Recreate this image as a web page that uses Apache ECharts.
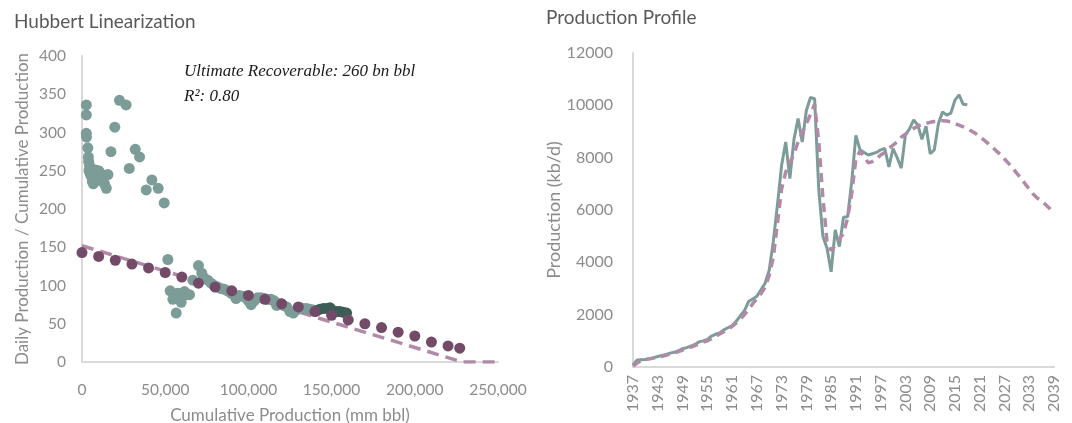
<!DOCTYPE html>
<html>
<head>
<meta charset="utf-8">
<title>Hubbert Linearization / Production Profile</title>
<script src="https://cdn.jsdelivr.net/npm/echarts@6/dist/echarts.min.js"></script>
<style>
  html, body { margin: 0; padding: 0; background: #fff; }
  #chart { width: 1072px; height: 423px; }
</style>
</head>
<body>
<div id="chart"></div>
<script>
// left panel: cumulative production (mm bbl) vs daily / cumulative
const histX = [2600, 2600, 2600, 2700, 3500, 3800, 4000, 4200, 4500, 5000, 5200, 5500, 6000, 6200, 6500, 6800, 7000, 7500, 8000, 8500, 9000, 9500, 10000, 10500, 11000, 11500, 12500, 13500, 14600, 15600, 17400, 19700, 22500, 26500, 28400, 32000, 34600, 38600, 42000, 45800, 49400,
  51600, 53000, 54600, 55600, 56600, 57500, 58600, 59600, 60600, 61600, 63000, 64600, 66600, 70000, 72000, 73400, 75600, 77600, 79500, 81600, 83600, 85600, 87500, 89500, 91000, 92600, 94500, 96500, 98500, 100000, 101600, 103500, 105600, 107500, 109500, 111500, 113600, 115500, 117000, 119000, 121000, 123000, 125000, 127000, 129000, 131000, 133000, 135000, 137000, 139000];
const histY = [336, 323, 299, 294, 280, 268, 262, 250, 257, 253, 244, 249, 246, 236, 242, 233, 238, 244, 251, 240, 246, 238, 250, 242, 238, 246, 236, 233, 227, 245, 275, 307, 342, 336, 253, 278, 268, 225, 238, 227, 208,
  134, 93, 82, 86, 64, 90, 89, 78, 86, 92, 88, 88, 107, 126, 116, 110, 107, 103, 100, 98, 96, 95, 93, 90, 88, 83, 87, 86, 84, 80, 75, 80, 84, 84, 83, 82, 82, 80, 74, 76, 74, 72, 66, 64, 68, 71, 70, 70, 69, 68];
const recentX = [141000, 143000, 145000, 147000, 149000, 151000, 153000, 155000, 157000, 159000];
const recentY = [67, 69, 70, 70, 71, 67, 66, 66, 65, 64];
const projX = [0, 10000, 20000, 30000, 40000, 50000, 60000, 70000, 80000, 90000, 100000, 110000, 120000, 130000, 140000, 150000, 160000, 170000, 180000, 190000, 200000, 210000, 220000, 227000];
const projY = [143, 138, 133, 128, 123, 117, 111, 103, 98, 93, 87, 82, 76, 72, 66, 61, 55, 50, 45, 39, 34, 26, 21, 18];
const fitX = [0, 228500, 250000];
const fitY = [152, 0, 0];

// right panel: production (kb/d) by year
const years = [];
for (let y = 1937; y <= 2039; y++) years.push(String(y));
const actual = [80, 270, 280, 290, 320, 360, 400, 440, 480, 530, 560, 620, 700, 740, 800, 860, 960, 1000, 1050, 1180, 1250, 1300, 1420, 1500, 1580, 1750, 1950, 2150, 2500, 2600, 2700, 2950, 3200, 3700, 4800, 6200, 7700, 8600, 7200, 8700, 9500, 8600, 9800, 10300, 10250, 6800, 5000, 4550, 3640, 5240, 4600, 5720, 5740, 7100, 8850, 8300, 8200, 8100, 8150, 8200, 8300, 8350, 7650, 8350, 8000, 7600, 8870, 9100, 9440, 9250, 8700, 9200, 8150, 8300, 9310, 9750, 9630, 9700, 10200, 10400, 10040, 10020];
const fitted = [30, 150, 250, 280, 310, 340, 380, 410, 450, 500, 540, 590, 650, 700, 760, 820, 890, 950, 1000, 1080, 1170, 1260, 1350, 1450, 1550, 1680, 1830, 2000, 2200, 2420, 2600, 2800, 3050, 3500, 4200, 5500, 6800, 7450, 7800, 8150, 8600, 8950, 9300, 9650, 10050, 8600, 6500, 4800, 4450, 4650, 4900, 5100, 5700, 6650, 7950, 8250, 8050, 7800, 7850, 7950, 8100, 8200, 8350, 8480, 8600, 8780, 8900, 9030, 9120, 9200, 9270, 9310, 9350, 9380, 9400, 9410, 9400, 9370, 9300, 9240, 9180, 9100, 9020, 8920, 8800, 8680, 8550, 8420, 8260, 8120, 7950, 7780, 7600, 7400, 7220, 7000, 6800, 6600, 6450, 6350, 6200, 6050, 5870];

const zip = (xs, ys) => xs.map((x, i) => [x, ys[i]]);

const FONT = "Lato";
const LABEL = "#8c8c8c";
const AXIS = "#d9d9d9";

const chart = echarts.init(document.getElementById("chart"));
chart.setOption({
  animation: false,
  textStyle: { fontFamily: FONT },
  title: [
    { text: "Hubbert Linearization", left: 14, top: 12, padding: 0, textStyle: { fontSize: 19, fontWeight: "normal", color: "#595959", fontFamily: FONT } },
    { text: "Production Profile", left: 546, top: 8, padding: 0, textStyle: { fontSize: 19, fontWeight: "normal", color: "#595959", fontFamily: FONT } },
  ],
  graphic: [
    { type: "text", left: 184, top: 63, style: { text: "Ultimate Recoverable: 260 bn bbl", font: "italic 17px 'Liberation Serif'", fill: "#1a1a1a" } },
    { type: "text", left: 184, top: 88, style: { text: "R²: 0.80", font: "italic 17px 'Liberation Serif'", fill: "#1a1a1a" } },
  ],
  grid: [
    { left: 82, right: 574, top: 56, bottom: 61, outerBoundsMode: "none" },
    { left: 633, right: 18, top: 53, bottom: 56, outerBoundsMode: "none" },
  ],
  xAxis: [
    {
      gridIndex: 0,
      type: "value",
      min: 0,
      max: 250000,
      interval: 50000,
      name: "Cumulative Production (mm bbl)",
      nameLocation: "middle",
      nameGap: 45,
      nameTextStyle: { color: LABEL, fontSize: 17 },
      axisLine: { show: true, lineStyle: { color: AXIS, width: 2 } },
      axisTick: { show: false },
      splitLine: { show: false },
      axisLabel: { color: LABEL, fontSize: 15.5, margin: 20, formatter: (v) => v.toLocaleString("en-US") },
    },
    {
      gridIndex: 1,
      type: "category",
      data: years,
      boundaryGap: false,
      axisLine: { show: true, lineStyle: { color: AXIS, width: 2 } },
      axisTick: { show: false },
      axisLabel: { color: LABEL, fontSize: 16, rotate: 90, interval: 5, margin: 8 },
    },
  ],
  yAxis: [
    {
      gridIndex: 0,
      type: "value",
      min: 0,
      max: 400,
      interval: 50,
      name: "Daily Production / Cumulative Production",
      nameLocation: "middle",
      nameGap: 51,
      nameTextStyle: { color: LABEL, fontSize: 17 },
      axisLine: { show: true, lineStyle: { color: AXIS, width: 2 } },
      axisTick: { show: false },
      splitLine: { show: false },
      axisLabel: { color: LABEL, fontSize: 15.5, margin: 16 },
    },
    {
      gridIndex: 1,
      type: "value",
      min: 0,
      max: 12000,
      interval: 2000,
      name: "Production (kb/d)",
      nameLocation: "middle",
      nameGap: 70,
      nameTextStyle: { color: LABEL, fontSize: 18 },
      axisLine: { show: true, lineStyle: { color: AXIS, width: 2 } },
      axisTick: { show: false },
      splitLine: { show: false },
      axisLabel: { color: LABEL, fontSize: 16, margin: 20, formatter: (v) => String(v) },
    },
  ],
  series: [
    {
      type: "line",
      xAxisIndex: 0,
      yAxisIndex: 0,
      data: zip(fitX, fitY),
      symbol: "none",
      lineStyle: { color: "#b08aa6", width: 3.5, type: [12, 7] },
      z: 1,
    },
    {
      type: "scatter",
      xAxisIndex: 0,
      yAxisIndex: 0,
      data: zip(histX, histY),
      symbolSize: 11,
      itemStyle: { color: "#7c9c97", opacity: 1 },
      z: 2,
    },
    {
      type: "scatter",
      xAxisIndex: 0,
      yAxisIndex: 0,
      data: zip(recentX, recentY),
      symbolSize: 11,
      itemStyle: { color: "#3c5d57", opacity: 1 },
      z: 3,
    },
    {
      type: "scatter",
      xAxisIndex: 0,
      yAxisIndex: 0,
      data: zip(projX, projY),
      symbolSize: 11,
      itemStyle: { color: "#744a69", opacity: 1 },
      z: 4,
    },
    {
      type: "line",
      xAxisIndex: 1,
      yAxisIndex: 1,
      data: actual,
      symbol: "none",
      lineStyle: { color: "#7c9c97", width: 3 },
      z: 2,
    },
    {
      type: "line",
      xAxisIndex: 1,
      yAxisIndex: 1,
      data: fitted,
      symbol: "none",
      lineStyle: { color: "#b08aa6", width: 3.5, type: [9, 6] },
      z: 3,
    },
  ],
});
</script>
</body>
</html>
